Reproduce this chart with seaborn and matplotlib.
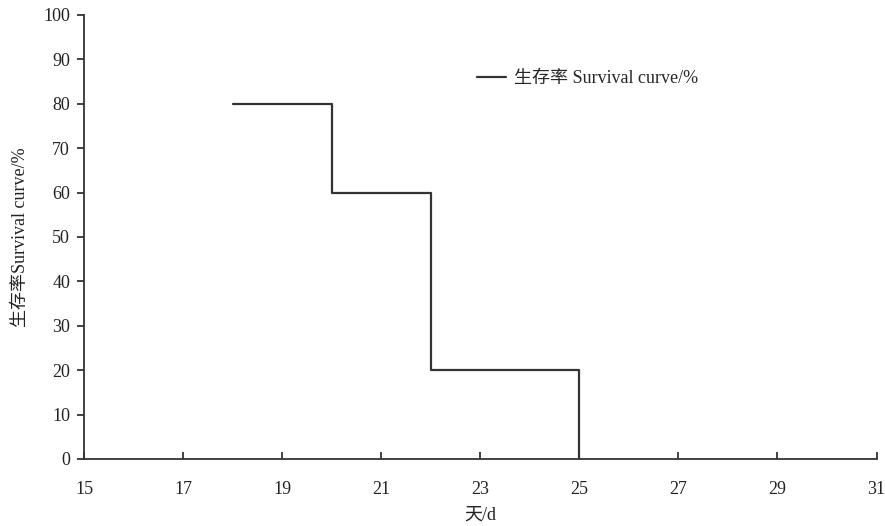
import matplotlib
matplotlib.use("Agg")
import matplotlib.pyplot as plt
import seaborn as sns
import pandas as pd

# datos
dias = [18, 20, 22, 25]
supervivencia = [80, 60, 20, 0]
x_ticks = [15, 17, 19, 21, 23, 25, 27, 29, 31]
y_ticks = [0, 10, 20, 30, 40, 50, 60, 70, 80, 90, 100]

df = pd.DataFrame({'dia': dias, 'surv': supervivencia})

sns.set_theme(style="ticks")
plt.rcParams['font.family'] = ['Liberation Serif', 'Noto Sans CJK SC']
plt.rcParams['font.size'] = 13

fig = plt.figure(figsize=(8.85, 5.26), dpi=100)
ax = fig.add_axes([0.0949, 0.1274, 0.8955, 0.8441])

sns.lineplot(data=df, x='dia', y='surv', drawstyle='steps-post', color='#333333',
             linewidth=1.6, ax=ax, label='生存率 Survival curve/%')

ax.set_xlim(15, 31)
ax.set_ylim(0, 100)
ax.set_xticks(x_ticks)
ax.set_yticks(y_ticks)
ax.tick_params(axis='x', direction='in', length=5, width=1.3, colors='#333333', labelsize=13, pad=16, labelcolor='#222222')
ax.tick_params(axis='y', direction='out', length=5, width=1.3, colors='#333333', labelsize=13, pad=5, labelcolor='#222222')
for s in ['top', 'right']:
    ax.spines[s].set_visible(False)
for s in ['left', 'bottom']:
    ax.spines[s].set_linewidth(1.3)
    ax.spines[s].set_color('#333333')

ax.set_xlabel('天/d', fontsize=13, color='#222222', labelpad=6)
ax.set_ylabel('生存率Survival curve/%', fontsize=13, color='#222222', labelpad=10)

ax.legend(loc='upper left', bbox_to_anchor=(0.476, 0.912), frameon=False, fontsize=13,
          handlelength=1.6, handletextpad=0.4)

fig.savefig('out.png', dpi=100)
